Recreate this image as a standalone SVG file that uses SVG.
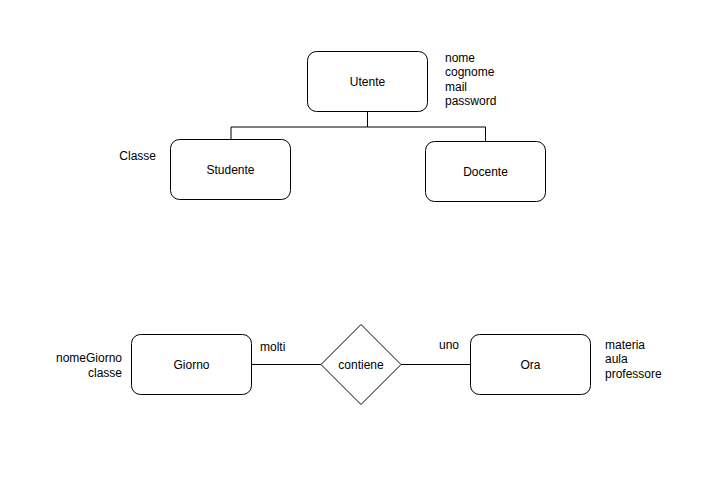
<svg xmlns="http://www.w3.org/2000/svg" width="716" height="495" viewBox="0 0 716 495">
  <style>
    .box { fill: #ffffff; stroke: #000000; stroke-width: 1; }
    .edge { fill: none; stroke: #000000; stroke-width: 1; }
    text { font-family: "Liberation Sans", Arial, Helvetica, sans-serif; font-size: 12px; fill: #000000; }
    .c { text-anchor: middle; dominant-baseline: central; }
    .l { text-anchor: start; }
    .r { text-anchor: end; }
  </style>
  <rect x="0" y="0" width="716" height="495" fill="#ffffff"/>

  <!-- connectors -->
  <g id="connectors">
    <path class="edge" d="M367.5 111.5 V127 H231 V139.5"/>
    <path class="edge" d="M367.5 127 H485.5 V141.5"/>
    <path class="edge" d="M251.5 364.5 H321"/>
    <path class="edge" d="M401 364.5 H470.5"/>
  </g>

  <!-- generalization hierarchy -->
  <g id="utente">
    <rect class="box" x="307.5" y="51.5" width="120" height="60" rx="9" ry="9"/>
    <text class="c" x="367.5" y="81.5">Utente</text>
    <text class="l" x="445" y="62">nome</text>
    <text class="l" x="445" y="76">cognome</text>
    <text class="l" x="445" y="91">mail</text>
    <text class="l" x="445" y="105">password</text>
  </g>
  <g id="studente">
    <rect class="box" x="170.5" y="139.5" width="120" height="60" rx="9" ry="9"/>
    <text class="c" x="230.5" y="169.5">Studente</text>
    <text class="r" x="156" y="160">Classe</text>
  </g>
  <g id="docente">
    <rect class="box" x="425.5" y="141.5" width="120" height="60" rx="9" ry="9"/>
    <text class="c" x="485.5" y="171.5">Docente</text>
  </g>

  <!-- relationship -->
  <g id="giorno">
    <rect class="box" x="131.5" y="334.5" width="120" height="60" rx="9" ry="9"/>
    <text class="c" x="191.5" y="364.5">Giorno</text>
    <text class="r" x="122" y="362">nomeGiorno</text>
    <text class="r" x="122" y="377">classe</text>
    <text class="l" x="260" y="351">molti</text>
  </g>
  <g id="contiene">
    <polygon class="box" points="361,324.5 401,364.5 361,404.5 321,364.5"/>
    <text class="c" x="361" y="364.5">contiene</text>
  </g>
  <g id="ora">
    <rect class="box" x="470.5" y="334.5" width="120" height="60" rx="9" ry="9"/>
    <text class="c" x="530.5" y="364.5">Ora</text>
    <text class="l" x="439" y="349">uno</text>
    <text class="l" x="605" y="349">materia</text>
    <text class="l" x="605" y="363">aula</text>
    <text class="l" x="605" y="378">professore</text>
  </g>
</svg>
